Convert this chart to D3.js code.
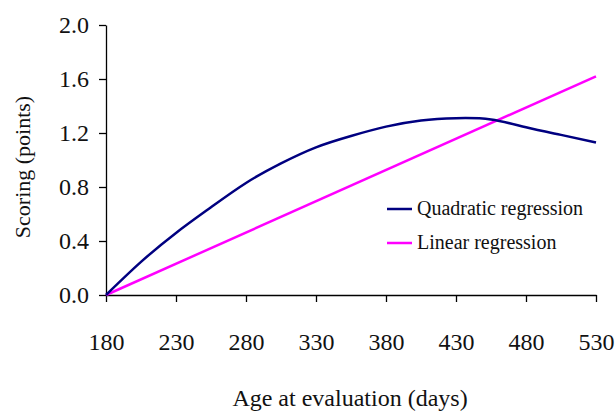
<!DOCTYPE html>
<html>
<head>
<meta charset="utf-8">
<script src="https://cdn.jsdelivr.net/npm/d3@7"></script>
<style>
body{margin:0;background:#fff}
svg text{font-family:"Liberation Serif","DejaVu Serif",serif;fill:#111}
</style>
</head>
<body>
<script>
// values
var ages=[180,205,230,255,280,305,330,355,380,405,430,455,480,505,530]
var quadratic=[0,0.245,0.46,0.65,0.83,0.975,1.094,1.178,1.247,1.293,1.31,1.30,1.242,1.186,1.13]
var linearAges=[180,530]
var linear=[0,1.62]
var xTicks=[180,230,280,330,380,430,480,530]
var yTicks=[0,0.4,0.8,1.2,1.6,2.0]
var seriesNames=["Quadratic regression","Linear regression"]
var seriesColors=["#000080","#ff00ff"]

var width=616,height=412
var svg=d3.select("body").append("svg").attr("width",width).attr("height",height)

var x=d3.scaleLinear().domain([180,530]).range([106,596])
var y=d3.scaleLinear().domain([0,2]).range([295,25])

var xAxis=svg.append("g").attr("transform","translate(0,295)")
	.call(d3.axisBottom(x).tickValues(xTicks).tickSize(7).tickSizeOuter(0).tickPadding(31).tickFormat(d3.format("d")))
var yAxis=svg.append("g").attr("transform","translate(106,0)")
	.call(d3.axisLeft(y).tickValues(yTicks).tickSize(7).tickSizeOuter(0).tickPadding(10).tickFormat(d3.format(".1f")))
xAxis.attr("font-family","Liberation Serif").attr("font-size",24)
yAxis.attr("font-family","Liberation Serif").attr("font-size",24)
svg.selectAll(".domain,.tick line").attr("stroke","#000").attr("stroke-width",1.3)
svg.selectAll(".tick text").attr("font-size",24).attr("fill","#111")

var line=d3.line().x(d=>x(d[0])).y(d=>y(d[1]))
svg.append("path").datum(d3.zip(linearAges,linear))
	.attr("d",line).attr("fill","none").attr("stroke",seriesColors[1]).attr("stroke-width",2.5)
svg.append("path").datum(d3.zip(ages,quadratic))
	.attr("d",d3.line().x(d=>x(d[0])).y(d=>y(d[1])).curve(d3.curveNatural))
	.attr("fill","none").attr("stroke",seriesColors[0]).attr("stroke-width",2.5)

// legend
var leg=svg.append("g").selectAll("g").data(seriesNames).join("g")
	.attr("transform",(d,i)=>"translate(387,"+(209+i*34)+")")
leg.append("line").attr("x1",0).attr("x2",25).attr("stroke",(d,i)=>seriesColors[i]).attr("stroke-width",2.5)
leg.append("text").attr("x",30).attr("y",6).attr("font-size",20).text(d=>d)

// axis titles
svg.append("text").attr("x",350).attr("y",406).attr("text-anchor","middle").attr("font-size",24)
	.text("Age at evaluation (days)")
svg.append("text").attr("transform","translate(30,167) rotate(-90)").attr("text-anchor","middle").attr("font-size",22)
	.text("Scoring (points)")
</script>
</body>
</html>
